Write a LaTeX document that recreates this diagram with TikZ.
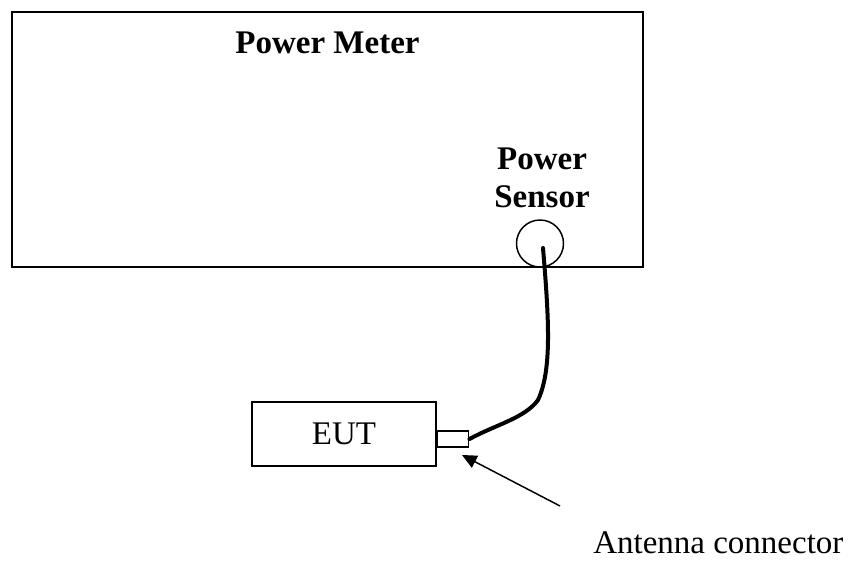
\documentclass[tikz,border=0pt]{standalone}
\usepackage{fontspec}
\setmainfont{Liberation Serif}
\usetikzlibrary{arrows.meta, positioning}

\begin{document}
\begin{tikzpicture}[
        x=0.75pt, y=-0.75pt,
        font=\fontsize{24.75}{28.5}\selectfont,
        unit/.style={rectangle, draw, line width=1.5pt, inner sep=0pt},
        port/.style={rectangle, draw, line width=1.1pt, inner sep=0pt, minimum width=23.25pt, minimum height=12pt},
        jack/.style={circle, draw, line width=1.1pt, inner sep=0pt, minimum size=35.25pt},
        cable/.style={line width=3pt, line cap=round},
        arrow/.style={line width=1.1pt, -{Triangle[length=11pt, width=10pt]}}
        ]
        \useasboundingbox (0,0) rectangle (850,563);

        \node (meter) [unit, minimum width=473.25pt, minimum height=191.25pt] at (327.5,139.5) {};
        \node (meterlabel) [anchor=base, font=\fontsize{24.75}{28.5}\selectfont\bfseries] at (327.5,54) {Power Meter};
        \node (sensorlabel) [anchor=base, align=center, font=\fontsize{24.75}{28.5}\selectfont\bfseries] at (542,208) {Power\\Sensor};
        \node (sensor) [jack] at (540,243.5) {};

        \node (eut) [unit, minimum width=138pt, minimum height=48pt] at (344,434) {EUT};
        \node (conn) [port, right=0pt of eut, yshift=-3.75pt] {};

        \node (connlabel) [anchor=base west, inner sep=0pt] at (593,553) {Antenna connector};
        \coordinate (plug) at (543,248);
        \coordinate (tail) at (560,506);
        \coordinate (tip) at (462,455);

        \draw [cable] (plug) .. controls (549,320) and (552,370) .. (538,400)
            .. controls (525,418) and (495,425) .. (conn.east);
        \draw [arrow] (tail) -- (tip);

    \end{tikzpicture}
\end{document}
